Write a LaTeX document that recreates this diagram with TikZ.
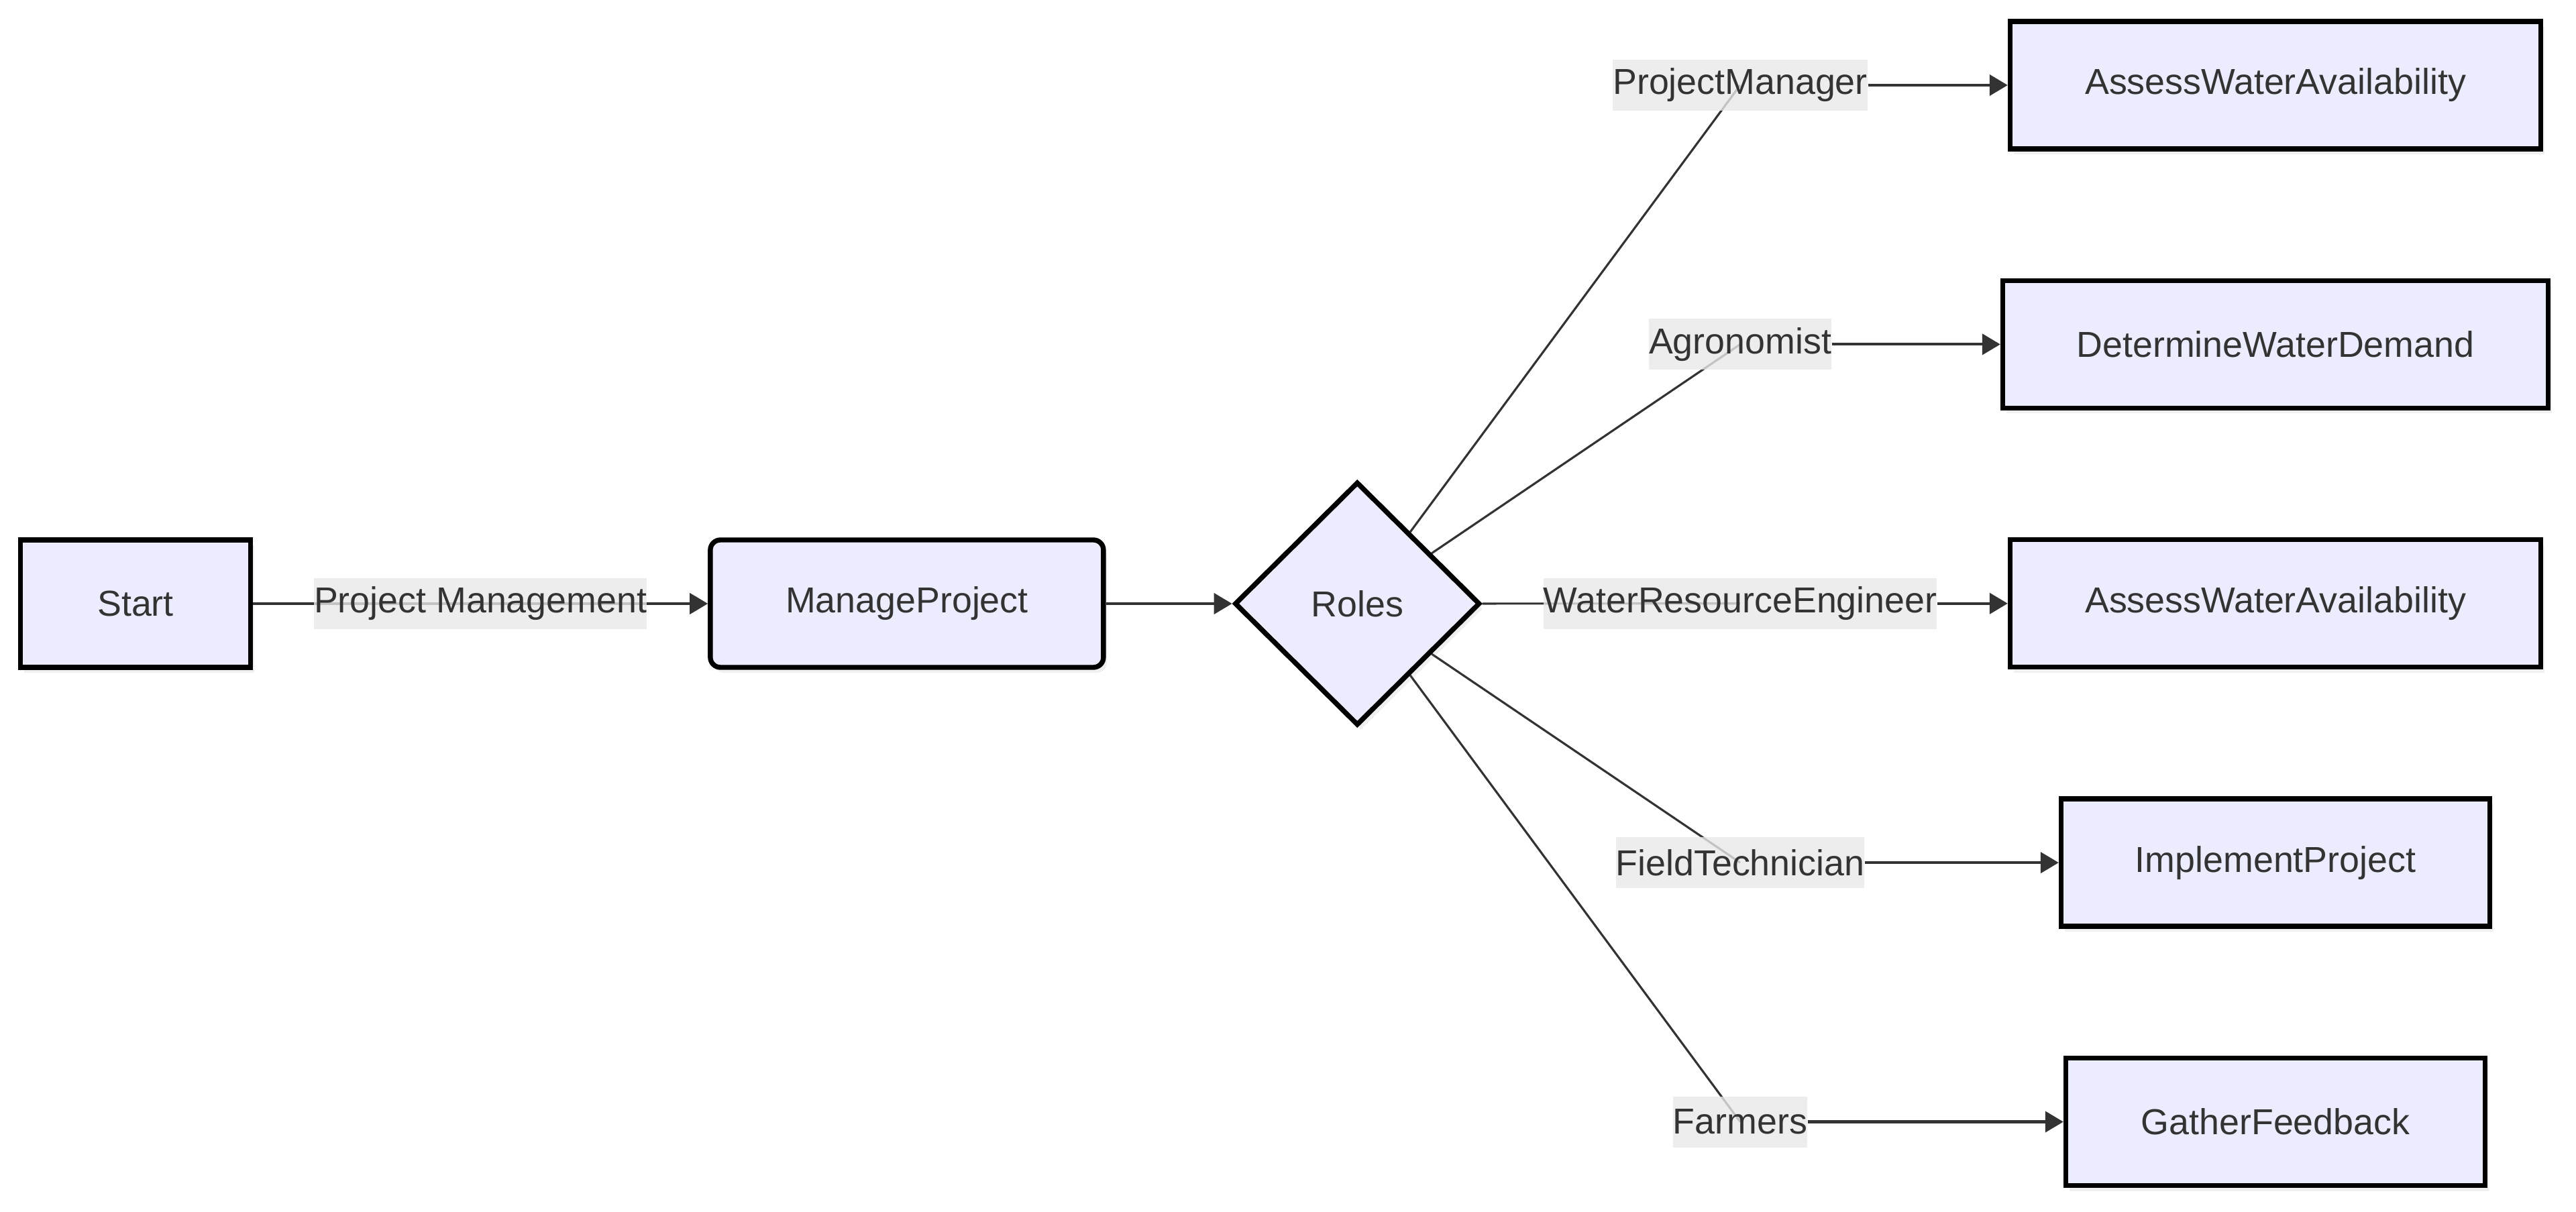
\documentclass[tikz,border=0pt]{standalone}
\usepackage{fontspec}
\setmainfont{Liberation Sans}
\usepackage{tikz}
\usetikzlibrary{shapes.geometric,positioning,arrows.meta,shadows,backgrounds}
\definecolor{boxfill}{HTML}{ECECFF}
\definecolor{inkgray}{HTML}{333333}
\definecolor{lblgray}{HTML}{E8E8E8}
\tikzstyle{procbox} = [draw=black, fill=boxfill, line width=2.1pt,
    rectangle, minimum height=1.9cm, text=inkgray, font=\fontsize{15.3}{18}\selectfont,
    drop shadow={opacity=0.12, shadow xshift=0.05cm, shadow yshift=-0.08cm}]
\tikzstyle{rolebox} = [procbox, diamond, inner sep=0pt,
    minimum width=3.66cm, minimum height=3.63cm]
\tikzstyle{edgelbl} = [fill=lblgray, fill opacity=0.8, text opacity=1, text=inkgray,
    inner xsep=0pt, inner ysep=0pt, minimum height=0.76cm, font=\fontsize{15.3}{18}\selectfont]
\tikzstyle{flow} = [draw=inkgray, line width=1.2pt, -{Triangle[length=0.27cm, width=0.31cm]}]
\tikzstyle{spoke} = [draw=inkgray, line width=0.9pt]

\begin{document}
\begin{tikzpicture}

\useasboundingbox (0,0) rectangle (38.4,18.06);

\node [procbox, minimum width=3.43cm] (start) at (2.02,9.06) {Start};

\node [procbox, rounded corners=0.15cm, minimum width=5.86cm, right=6.78cm of start] (manage) {ManageProject};

\node [rolebox, right=1.88cm of manage] (roles) {Roles};

\draw [flow] (start) -- node[edgelbl] {Project Management} (manage);
\draw [flow] (manage) -- (roles);

\node [procbox, minimum width=7.91cm] (assess1) at (33.92,16.79) {AssessWaterAvailability};
\node [procbox, minimum width=8.13cm, below=1.89cm of assess1] (demand) {DetermineWaterDemand};
\node [procbox, minimum width=7.91cm, below=1.89cm of demand] (assess2) {AssessWaterAvailability};
\node [procbox, minimum width=6.39cm, below=1.89cm of assess2] (implement) {ImplementProject};
\node [procbox, minimum width=6.25cm, below=1.89cm of implement] (feedback) {GatherFeedback};

\coordinate (lblx) at (25.94,0);
\node [edgelbl] (pm) at (assess1 -| lblx) {ProjectManager};
\node [edgelbl] (agro) at (demand -| lblx) {Agronomist};
\node [edgelbl] (wre) at (assess2 -| lblx) {WaterResourceEngineer};
\node [edgelbl] (tech) at (implement -| lblx) {FieldTechnician};
\node [edgelbl] (farm) at (feedback -| lblx) {Farmers};

\begin{pgfonlayer}{background}
\foreach \who in {pm,agro,wre,tech,farm}
    \draw [spoke] (roles) -- (\who.center);
\end{pgfonlayer}

\draw [flow] (pm) -- (assess1);
\draw [flow] (agro) -- (demand);
\draw [flow] (wre) -- (assess2);
\draw [flow] (tech) -- (implement);
\draw [flow] (farm) -- (feedback);

\end{tikzpicture}
\end{document}
